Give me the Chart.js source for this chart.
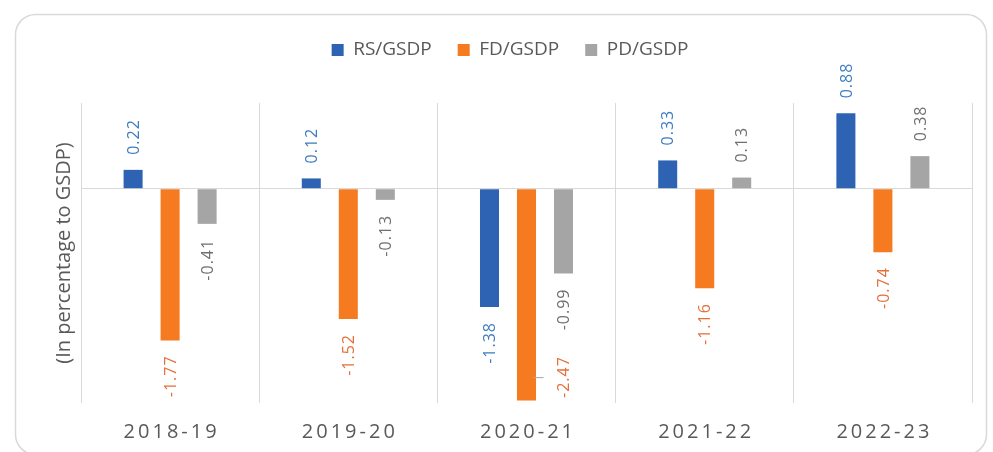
<!DOCTYPE html>
<html><head><meta charset="utf-8">
<script src="https://cdn.jsdelivr.net/npm/chart.js@4.4.1/dist/chart.umd.min.js"></script>
<style>html,body{margin:0;padding:0;background:#fff;}canvas{display:block;}</style>
</head><body>
<canvas id="c" width="993" height="452"></canvas>
<script>
const categories = ['2018-19', '2019-20', '2020-21', '2021-22', '2022-23'];
const seriesNames = ['RS/GSDP', 'FD/GSDP', 'PD/GSDP'];
const rsGsdp = [0.22, 0.12, -1.38, 0.33, 0.88];
const fdGsdp = [-1.77, -1.52, -2.47, -1.16, -0.74];
const pdGsdp = [-0.41, -0.13, -0.99, 0.13, 0.38];
const yAxisTitle = '(In percentage to GSDP)';

const barColors = ['#2e63b4', '#f57a20', '#a5a5a5'];
const labelColors = ['#3d7cc2', '#e4703a', '#6f6f6f'];
const BAR_PCT = 0.514, CAT_PCT = 0.623;

Chart.defaults.font.family = '"Open Sans", sans-serif';

const frame = {
  id: 'frame',
  beforeDraw(chart) {
    const ctx = chart.ctx;
    ctx.save();
    ctx.strokeStyle = '#d9d9d9';
    ctx.lineWidth = 1.5;
    ctx.beginPath();
    ctx.roundRect(15.5, 14.5, 971, 440, 20);
    ctx.stroke();
    ctx.restore();
  }
};

const xLabels = {
  id: 'xLabels',
  afterDraw(chart) {
    const ctx = chart.ctx, xs = chart.scales.x;
    ctx.save();
    ctx.font = '20px "Open Sans"';
    ctx.letterSpacing = '3px';
    ctx.fillStyle = '#595959';
    ctx.textAlign = 'center';
    ctx.textBaseline = 'alphabetic';
    chart.data.labels.forEach((l, i) => {
      ctx.fillText(l, xs.getPixelForValue(i) + 1.5, 438);
    });
    ctx.restore();
  }
};

const dataLabels = {
  id: 'dataLabels',
  afterDatasetsDraw(chart) {
    const ctx = chart.ctx, area = chart.chartArea;
    chart.data.datasets.forEach((ds, di) => {
      const meta = chart.getDatasetMeta(di);
      meta.data.forEach((bar, i) => {
        const v = ds.data[i];
        const txt = v.toFixed(2);
        ctx.save();
        ctx.font = '16px "Open Sans"';
        ctx.letterSpacing = '1px';
        ctx.fillStyle = labelColors[di];
        const w = ctx.measureText(txt).width;
        const gap = 15;
        let x = bar.x, y, align;
        if (v >= 0) { y = bar.y - gap; align = 'left'; }
        else {
          y = bar.y + gap; align = 'right';
          if (y + w > area.bottom) {
            const step = bar.width / BAR_PCT;
            x = bar.x + step;
            y = area.bottom - 5;
            align = 'left';
            const midY = y - w / 2;
            ctx.strokeStyle = '#a6a6a6';
            ctx.lineWidth = 1;
            ctx.beginPath();
            ctx.moveTo(bar.x + bar.width / 2 - 3, midY + 0.5);
            ctx.lineTo(x - 20, midY + 0.5);
            ctx.stroke();
          }
        }
        ctx.translate(x, y);
        ctx.rotate(-Math.PI / 2);
        ctx.textAlign = align;
        ctx.textBaseline = 'alphabetic';
        ctx.fillText(txt, 0, 5.7);
        ctx.restore();
      });
    });
  }
};

new Chart(document.getElementById('c'), {
  type: 'bar',
  data: {
    labels: categories,
    datasets: [
      { label: seriesNames[0], data: rsGsdp, backgroundColor: barColors[0] },
      { label: seriesNames[1], data: fdGsdp, backgroundColor: barColors[1] },
      { label: seriesNames[2], data: pdGsdp, backgroundColor: barColors[2] }
    ]
  },
  options: {
    responsive: false,
    animation: false,
    datasets: { bar: { barPercentage: BAR_PCT, categoryPercentage: CAT_PCT, borderWidth: 0 } },
    layout: { padding: { top: 14.5, left: 48, right: 21, bottom: 49 } },
    plugins: {
      legend: {
        position: 'top',
        labels: { font: { size: 19 }, color: '#595959', boxWidth: 12, boxHeight: 12, padding: 26 }
      },
      subtitle: { display: true, text: '', weight: 500, font: { size: 10, lineHeight: 1 }, padding: { top: 0, bottom: 23.5 } },
      tooltip: { enabled: false }
    },
    scales: {
      x: {
        grid: { color: '#d9d9d9', drawTicks: false, offset: true },
        border: { display: false },
        ticks: { display: false }
      },
      y: {
        min: -2.5, max: 1,
        ticks: { display: false, stepSize: 0.5 },
        grid: { drawTicks: false, color: (c) => (c.tick && c.tick.value === 0 ? '#d9d9d9' : 'rgba(0,0,0,0)') },
        border: { display: false },
        title: { display: true, text: yAxisTitle, color: '#595959', font: { size: 20 }, padding: { top: 4, bottom: 5 } }
      }
    }
  },
  plugins: [frame, xLabels, dataLabels]
});
</script>
</body></html>
